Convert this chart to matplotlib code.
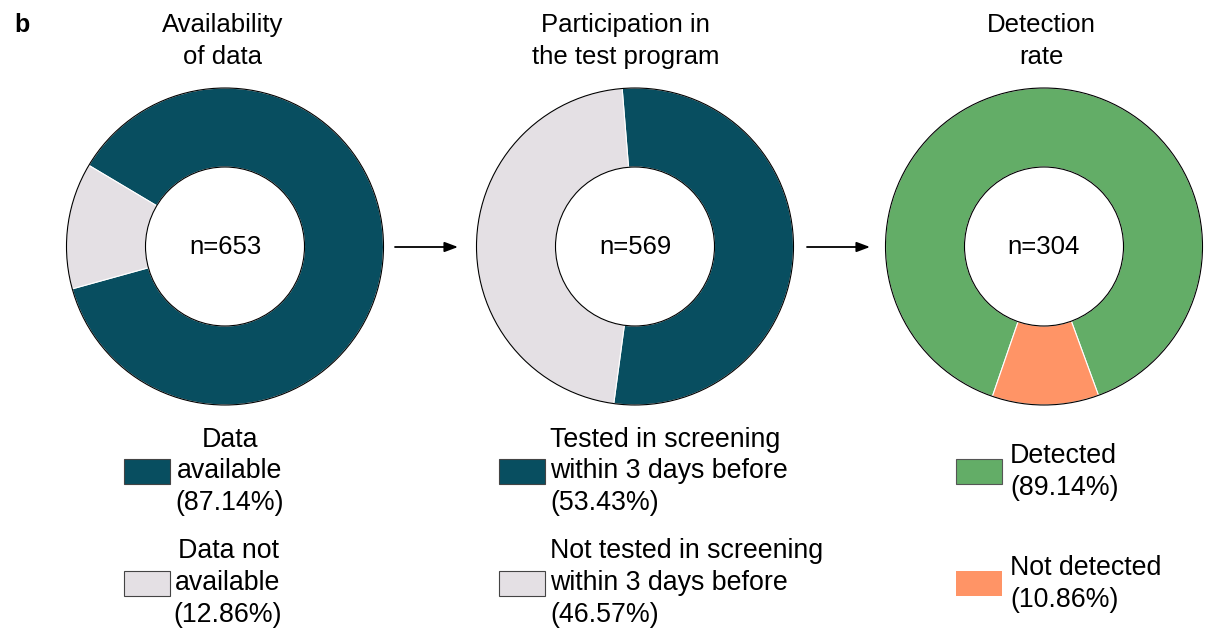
import matplotlib
matplotlib.use("Agg")
import matplotlib.pyplot as plt
from matplotlib.patches import Circle, Rectangle

plt.rcParams["font.family"] = ["Liberation Sans", "DejaVu Sans"]

# ---- data ----
titles = ["Availability\nof data", "Participation in\nthe test program", "Detection\nrate"]
totals = [653, 569, 304]

avail_labels = ["Data\navailable", "Data not\navailable"]
avail_pct = [87.14, 12.86]

test_labels = ["Tested in screening\nwithin 3 days before",
               "Not tested in screening\nwithin 3 days before"]
test_pct = [53.43, 46.57]

detect_labels = ["Detected", "Not detected"]
detect_pct = [89.14, 10.86]

# ---- style ----
TEAL = "#084e60"
GREY = "#e4e0e4"
GREEN = "#63ad67"
ORANGE = "#ff9466"

W, H = 1206, 631
fig = plt.figure(figsize=(W / 100, H / 100), dpi=100)
ax = fig.add_axes([0, 0, 1, 1])
ax.set_xlim(0, W)
ax.set_ylim(0, H)
ax.set_aspect("equal")
ax.axis("off")


def Y(y_from_top):
    """Convert a distance from the top edge into axes y."""
    return H - y_from_top


R_OUT = 158.5
R_IN = 79.5
CY = Y(246.5)
LINE = 31.7          # line pitch for legend and title text
TITLE_FS = 18.5
LEG_FS = 19.3

panels = [
    dict(cx=225, start=195.5, pct=avail_pct, labels=avail_labels,
         colors=[TEAL, GREY], title_x=222.5, legend_x=124,
         text_x=[230, 228], ha="center", first_base=[446.7, 558.3],
         pedges=["#444444", "#444444"]),
    dict(cx=635, start=262.3, pct=test_pct, labels=test_labels,
         colors=[TEAL, GREY], title_x=625.5, legend_x=499,
         text_x=[550, 550], ha="left", first_base=[446.7, 558.3],
         pedges=["#444444", "#444444"]),
    dict(cx=1044, start=290.1, pct=detect_pct, labels=detect_labels,
         colors=[GREEN, ORANGE], title_x=1041.5, legend_x=956,
         text_x=[1010, 1010], ha="left", first_base=[463.3, 575.0],
         pedges=["#555555", "none"]),
]

patch_centers = [471, 583.7]
patch_w, patch_h = 46, 25

for i, p in enumerate(panels):
    center = (p["cx"], CY)
    ax.pie(p["pct"], colors=p["colors"], startangle=p["start"],
           counterclock=True, center=center, radius=R_OUT,
           wedgeprops=dict(width=R_OUT - R_IN, edgecolor="white", linewidth=0.8))
    for r in (R_OUT, R_IN):
        ax.add_patch(Circle(center, r, fill=False, edgecolor="black",
                            linewidth=0.8, zorder=5))
    ax.text(p["cx"], Y(254.3), f"n={totals[i]}", ha="center", va="baseline",
            fontsize=18.5, zorder=6)

    for k, line in enumerate(titles[i].split("\n")):
        ax.text(p["title_x"], Y(32.3 + k * 32), line, ha="center",
                va="baseline", fontsize=TITLE_FS)

    for j, (lab, val) in enumerate(zip(p["labels"], p["pct"])):
        cy = Y(patch_centers[j])
        ax.add_patch(Rectangle((p["legend_x"], cy - patch_h / 2), patch_w, patch_h,
                               facecolor=p["colors"][j], edgecolor=p["pedges"][j],
                               linewidth=0.8))
        lines = lab.split("\n") + [f"({val:.2f}%)"]
        for k, line in enumerate(lines):
            ax.text(p["text_x"][j], Y(p["first_base"][j] + k * LINE), line,
                    ha=p["ha"], va="baseline", fontsize=LEG_FS)

# arrows between panels
for x0, x1 in [(395, 458), (807, 870)]:
    ax.annotate("", xy=(x1, Y(247)), xytext=(x0, Y(247)),
                arrowprops=dict(arrowstyle="-|>,head_length=0.8,head_width=0.3",
                                lw=1.3, color="black", shrinkA=0, shrinkB=0))

ax.text(14, Y(32), "b", ha="left", va="baseline", fontsize=18, fontweight="bold")

ax.set_xlim(0, W)
ax.set_ylim(0, H)
fig.savefig("out.png", dpi=100)
